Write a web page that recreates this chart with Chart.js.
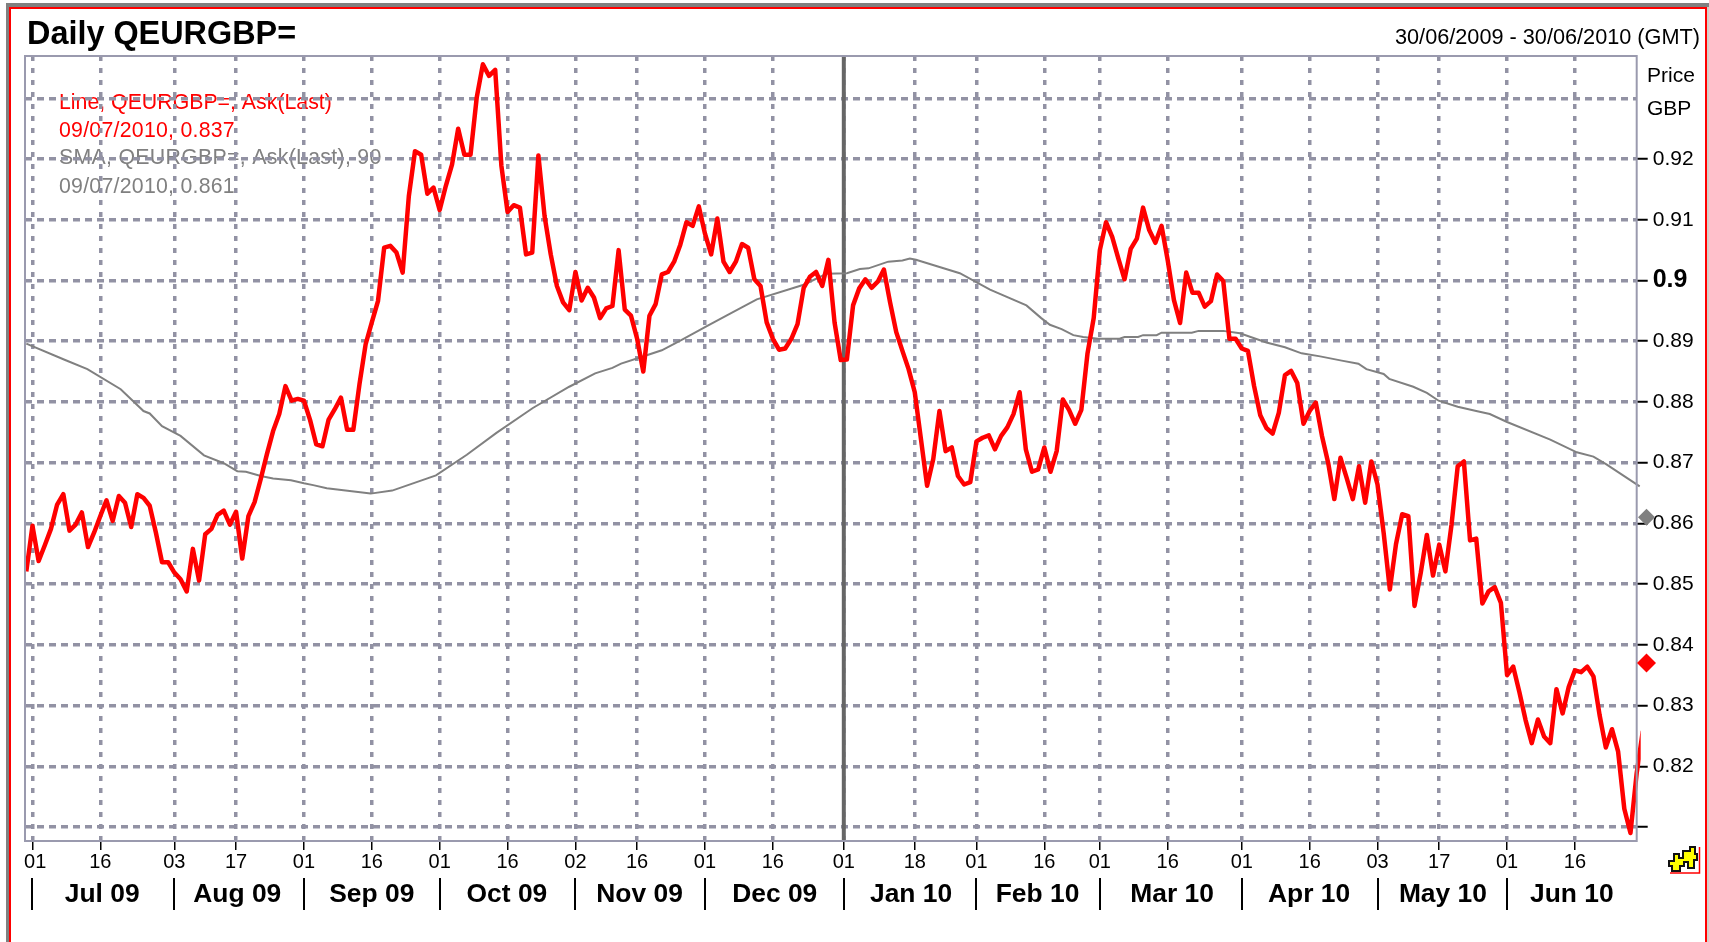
<!DOCTYPE html>
<html>
<head>
<meta charset="utf-8">
<script src="https://cdn.jsdelivr.net/npm/chart.js@4"></script>
<style>
html,body{margin:0;padding:0;background:#fff;overflow:hidden}
#wrap{position:relative;width:1709px;height:942px}
canvas{position:absolute;left:0;top:0}
.f{position:absolute}
</style>
</head>
<body>
<div id="wrap">
<canvas id="c" width="1709" height="942"></canvas>
<div class="f" style="left:6px;top:3px;width:1703px;height:3.5px;background:#808080"></div>
<div class="f" style="left:6px;top:3px;width:2.5px;height:939px;background:#808080"></div>
<div class="f" style="left:8.5px;top:6.5px;width:1696px;height:2px;background:#f00"></div>
<div class="f" style="left:8.5px;top:6.5px;width:2.5px;height:936px;background:#f00"></div>
<div class="f" style="left:1704.5px;top:6.5px;width:2px;height:936px;background:#f00"></div>
<div class="f" style="left:1706.5px;top:6.5px;width:2.5px;height:936px;background:#d4d0c8"></div>
<svg class="f" style="left:1668px;top:845px" width="34" height="33" viewBox="0 0 34 33">
<path d="M31.5 2V28H2" fill="none" stroke="#f00" stroke-width="1.5"/>
<path d="M17 6H22V2H27V9H29V15H26V23H20V17H16V21H12V26H4V21H1V16H6V9H11V13H15V6Z" fill="#ff0" stroke="#111" stroke-width="2"/>
</svg>
</div>
<script>
const titleText = 'Daily QEURGBP=';
const rangeText = '30/06/2009 - 30/06/2010 (GMT)';
const axisUnits = ['Price', 'GBP'];
const legendRed = ['Line, QEURGBP=, Ask(Last)', '09/07/2010, 0.837'];
const legendGray = ['SMA, QEURGBP=, Ask(Last), 90', '09/07/2010, 0.861'];

const askLast = [
.8521,.8596,.8538,.8564,.8591,.8631,.8648,.8588,.8598,.8618,
.8561,.8585,.8612,.8638,.8604,.8645,.8634,.8594,.8648,.8642,
.8629,.8585,.8536,.8536,.8519,.8508,.8488,.8558,.8506,.8582,
.8591,.8614,.8621,.8598,.8619,.8542,.8612,.8635,.8673,.8714,
.8752,.8780,.8826,.8802,.8805,.8802,.8770,.8730,.8727,.8771,
.8788,.8807,.8754,.8754,.8829,.8895,.8931,.8966,.9054,.9057,
.9046,.9013,.9139,.9213,.9207,.9143,.9153,.9116,.9156,.9191,
.9250,.9207,.9207,.9301,.9356,.9337,.9347,.9189,.9113,.9124,
.9120,.9043,.9046,.9206,.9106,.9043,.8991,.8964,.8951,.9014,
.8967,.8988,.8972,.8938,.8954,.8958,.9050,.8952,.8942,.8904,
.8850,.8942,.8961,.9010,.9014,.9031,.9059,.9096,.9090,.9122,
.9077,.9043,.9102,.9031,.9014,.9031,.9060,.9054,.9002,.8991,
.8931,.8904,.8886,.8888,.8904,.8928,.8988,.9006,.9014,.8991,
.9034,.8931,.8869,.8870,.8959,.8987,.9002,.8988,.8998,.9018,
.8964,.8915,.8884,.8854,.8816,.8739,.8662,.8706,.8785,.8719,
.8725,.8678,.8664,.8668,.8735,.8741,.8745,.8722,.8744,.8758,
.8780,.8816,.8722,.8685,.8689,.8725,.8685,.8719,.8804,.8787,
.8764,.8787,.8880,.8938,.9050,.9096,.9072,.9036,.9002,.9052,
.9069,.9120,.9083,.9062,.9090,.9033,.8968,.8930,.9013,.8980,
.8980,.8957,.8966,.9010,.8999,.8904,.8904,.8888,.8884,.8826,
.8778,.8757,.8748,.8782,.8844,.8851,.8831,.8764,.8785,.8799,
.8744,.8700,.8640,.8708,.8675,.8640,.8694,.8634,.8702,.8664,
.8584,.8491,.8566,.8615,.8612,.8464,.8518,.8581,.8514,.8565,
.8521,.8598,.8694,.8702,.8572,.8575,.8468,.8488,.8495,.8469,
.8350,.8364,.8322,.8276,.8238,.8277,.8249,.8238,.8327,.8287,
.8331,.8358,.8355,.8364,.8348,.8284,.8231,.8261,.8224,.8130,
.8090,.8188,.8258];

const smaDays = [0,6.3,9.9,15.3,19,20,22,25,28.8,32,34.2,35.6,38,40,42.9,45,46.5,48.7,55.8,59.3,66.4,71.4,76.2,82.1,88,92.2,95,96.4,99.7,103,106,110.3,114,118.4,126,129.7,133,135.1,136.5,139.7,142,143.2,144.2,151.3,156.2,162.1,164.5,165.9,167.8,169.7,171.3,173.7,177.2,178,180.2,181,183.2,184,188.9,190,194,196.7,201,204,206.7,209.7,213.2,215.9,217.2,220,220.9,224.8,227,228.9,232,235,237.2,240,247,251.3,254,256.1,261.5];
const smaValues = [.8896,.8869,.8854,.8821,.8785,.8781,.8760,.8744,.8712,.8699,.8686,.8685,.8678,.8674,.8671,.8666,.8663,.8658,.8649,.8654,.8679,.8713,.8749,.8790,.8825,.8847,.8856,.8863,.8874,.8885,.8901,.8925,.8945,.8969,.8993,.9011,.9012,.9019,.9020,.9031,.9033,.9036,.9034,.9012,.8985,.8959,.8938,.8927,.8920,.8910,.8907,.8904,.8904,.8907,.8907,.8910,.8910,.8914,.8914,.8917,.8917,.8913,.8898,.8890,.8880,.8875,.8868,.8863,.8854,.8846,.8838,.8825,.8815,.8802,.8792,.8785,.8780,.8767,.8738,.8717,.8710,.8697,.8661];

const dayTickPositions = [1,12,24,34,45,56,67,78,89,99,110,121,132.5,144,154,165,174,185,197,208,219,229,240,251];
const dayTickLabels = [' 01','16','03','17','01','16','01','16','02','16','01','16','01','18','01','16','01','16','01','16','03','17','01','16'];
const monthLabels = ['Jul 09','Aug 09','Sep 09','Oct 09','Nov 09','Dec 09','Jan 10','Feb 10','Mar 10','Apr 10','May 10','Jun 10'];
const monthCentres = [12.3,34.2,56,77.9,99.4,121.3,143.4,163.9,185.7,207.9,229.6,250.5];
const monthStarts = [1,24,45,67,89,110,132.5,154,174,197,219,240];
const priceTicks = [0.93,0.92,0.91,0.90,0.89,0.88,0.87,0.86,0.85,0.84,0.83,0.82,0.81];
const yearBreakDay = 132.5;
const latestDay = 262.6;
const latestAsk = 0.837;
const latestSma = 0.861;

const X_MIN = -0.21, X_MAX = 261.01, Y_MIN = 0.80769, Y_MAX = 0.93697;
const FONT = '"Liberation Sans", Arial, sans-serif';
const GRID = '#9292a4';

function diamond(g, x, y, r, color) {
  g.fillStyle = color;
  g.beginPath();
  g.moveTo(x, y - r); g.lineTo(x + r, y); g.lineTo(x, y + r); g.lineTo(x - r, y);
  g.closePath();
  g.fill();
}

const textPlugin = {
  id: 'texts',
  beforeDraw(ch) {
    const g = ch.ctx;
    g.save();
    g.textBaseline = 'alphabetic';
    g.textAlign = 'left';
    g.font = '21.3px ' + FONT;
    g.fillStyle = '#f00';
    g.fillText(legendRed[0], 59, 109);
    g.letterSpacing = '0.25px';
    g.fillText(legendRed[1], 59, 137);
    g.fillStyle = '#808080';
    g.letterSpacing = '0.3px';
    g.fillText(legendGray[0], 59, 164);
    g.letterSpacing = '0.25px';
    g.fillText(legendGray[1], 59, 193);
    g.letterSpacing = '0px';
    g.restore();
  },
  afterDraw(ch) {
    const g = ch.ctx, a = ch.chartArea, xs = ch.scales.x, ys = ch.scales.y;
    g.save();
    g.strokeStyle = '#9a9aae';
    g.lineWidth = 2;
    g.strokeRect(a.left, a.top, a.right - a.left, a.bottom - a.top);
    diamond(g, xs.getPixelForValue(latestDay), ys.getPixelForValue(latestSma), 8.5, '#808080');
    diamond(g, xs.getPixelForValue(latestDay), ys.getPixelForValue(latestAsk), 9.5, '#ff0000');
    g.fillStyle = '#000';
    g.textBaseline = 'alphabetic';
    g.textAlign = 'left';
    g.font = 'bold 32.4px ' + FONT;
    g.fillText(titleText, 27, 43.5);
    g.font = '21.7px ' + FONT;
    g.textAlign = 'right';
    g.fillText(rangeText, 1700, 44);
    g.font = '21px ' + FONT;
    g.textAlign = 'left';
    g.fillText(axisUnits[0], 1647, 82);
    g.fillText(axisUnits[1], 1647, 115);
    g.textAlign = 'center';
    g.font = 'bold 26.4px ' + FONT;
    monthLabels.forEach((m, i) => g.fillText(m, xs.getPixelForValue(monthCentres[i]), 901.5));
    g.strokeStyle = '#000';
    g.lineWidth = 2;
    monthStarts.forEach(d => {
      const p = Math.round(xs.getPixelForValue(d));
      g.beginPath(); g.moveTo(p, 878); g.lineTo(p, 910); g.stroke();
    });
    g.restore();
  }
};

const overflow = {left: 0, top: 0, right: 4, bottom: 0};

new Chart(document.getElementById('c'), {
  type: 'line',
  plugins: [textPlugin],
  data: {
    datasets: [
      {label: 'Year', data: [{x: yearBreakDay, y: Y_MIN}, {x: yearBreakDay, y: Y_MAX}], borderColor: '#666666', borderWidth: 4, pointRadius: 0, order: 4},
      {label: 'SMA', data: smaDays.map((d, i) => ({x: d, y: smaValues[i]})), borderColor: '#808080', borderWidth: 2, pointRadius: 0, tension: 0, clip: overflow, order: 3},
      {label: 'Ask', data: askLast.map((v, i) => ({x: i, y: v})), borderColor: '#ff0000', borderWidth: 4.5, pointRadius: 0, tension: 0, clip: overflow, order: 2, borderJoinStyle: 'round'}
    ]
  },
  options: {
    responsive: false,
    animation: false,
    parsing: false,
    normalized: false,
    layout: {padding: {left: 25, top: 56, right: 0, bottom: 0}},
    plugins: {legend: {display: false}, tooltip: {enabled: false}, title: {display: false}},
    scales: {
      x: {
        type: 'linear', position: 'bottom', min: X_MIN, max: X_MAX,
        afterBuildTicks(s) { s.ticks = dayTickPositions.map(v => ({value: v})); },
        afterFit(s) { s.height = 942 - 841; s.paddingLeft = 0; s.paddingRight = 0; },
        grid: {color: GRID, lineWidth: 3.5, tickLength: 9, tickColor: '#000', tickWidth: 1.5, tickBorderDash: []},
        border: {display: false, dash: [5, 7]},
        ticks: {
          autoSkip: false, maxRotation: 0, minRotation: 0, padding: 0, color: '#000',
          font: {family: FONT, size: 20},
          callback(v, i) { return dayTickLabels[i]; }
        }
      },
      y: {
        type: 'linear', position: 'right', min: Y_MIN, max: Y_MAX,
        afterBuildTicks(s) { s.ticks = priceTicks.map(v => ({value: v})); },
        afterFit(s) { s.width = 1709 - 1636.7; s.paddingTop = 0; s.paddingBottom = 0; },
        grid: {
          color: GRID, lineWidth: 3.5, tickLength: 11,
          tickColor: c => (c.tick && c.tick.value === 0.93) ? 'rgba(0,0,0,0)' : '#000',
          tickWidth: 2, tickBorderDash: []
        },
        border: {display: false, dash: [7, 5]},
        ticks: {
          padding: 5, color: '#000', autoSkip: false,
          font: c => (c.tick && c.tick.value === 0.9) ? {family: FONT, size: 25, weight: 'bold'} : {family: FONT, size: 21, weight: 'normal'},
          callback(v) { return (v === 0.93 || v === 0.81) ? '' : String(v); }
        }
      }
    }
  }
});
</script>
</body>
</html>
